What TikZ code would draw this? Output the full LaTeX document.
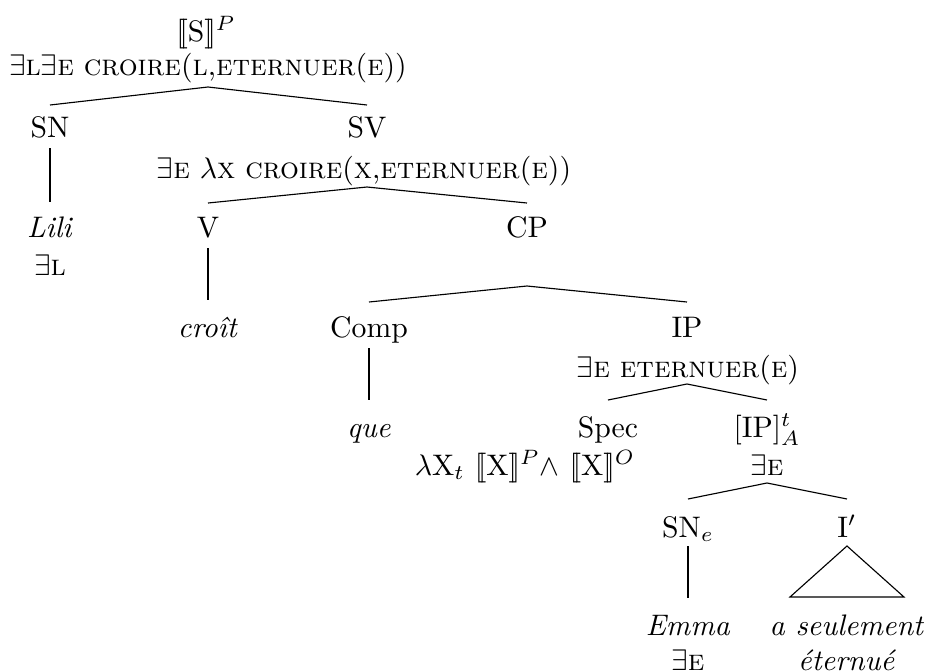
\documentclass[tikz,border=0pt]{standalone}
\newcommand{\sem}[1]{[\![#1]\!]}
\tikzset{
  lbl/.style={anchor=base, inner sep=0pt, outer sep=0pt},
  edge/.style={line width=0.38pt, black},
}
\begin{document}
\begin{tikzpicture}[x=0.3367pt,y=-0.3367pt]
\useasboundingbox (0,0) rectangle (927,672);
% root
\node[lbl] (S) at (206,41) {$\sem{\mathrm{S}}^P$};
\node[lbl] (Sf) at (208,75) {$\exists$\textsc{l}$\exists$\textsc{e} \textsc{croire}(\textsc{l},\textsc{eternuer}(\textsc{e}))};
% level 1
\node[lbl] (SN) at (50,137) {SN};
\node[lbl] (SV) at (367,137) {SV};
\node[lbl] (SVf) at (364,178) {$\exists$\textsc{e} $\lambda$\textsc{x} \textsc{croire}(\textsc{x},\textsc{eternuer}(\textsc{e}))};
% level 2
\node[lbl] (Lili) at (50,237) {\textit{Lili}};
\node[lbl] (EL) at (50,275) {$\exists$\textsc{l}};
\node[lbl] (V) at (208,237) {V};
\node[lbl] (CP) at (527,237) {CP};
% level 3
\node[lbl] (croit) at (208,337) {\textit{croît}};
\node[lbl] (Comp) at (369,337) {Comp};
\node[lbl] (IP) at (687,337) {IP};
\node[lbl] (IPf) at (688,377) {$\exists$\textsc{e} \textsc{eternuer}(\textsc{e})};
% level 4
\node[lbl] (que) at (369,437) {\textit{que}};
\node[lbl] (Spec) at (608,437) {Spec};
\node[lbl] (Specf) at (525,475) {$\lambda$X$_t$ $\sem{\mathrm{X}}^P\wedge$ $\sem{\mathrm{X}}^O$};
\node[lbl] (IPA) at (767,437) {$[\mathrm{IP}]^t_A$};
\node[lbl] (IPAf) at (767,475) {$\exists$\textsc{e}};
% level 5
\node[lbl] (SNe) at (688,537) {SN$_e$};
\node[lbl] (Ip) at (847,537) {I$'$};
% level 6
\node[lbl] (Emma) at (688,635) {\textit{Emma}};
\node[lbl] (EE) at (688,670) {$\exists$\textsc{e}};
\node[lbl] (aseul) at (847,635) {\textit{a seulement}};
\node[lbl] (etern) at (847,670) {\textit{éternué}};
% branch points
\coordinate (r0) at (208,87);  \coordinate (r1) at (50,105);  \coordinate (r2) at (367,105);
\coordinate (v0) at (367,187); \coordinate (v1) at (208,203); \coordinate (v2) at (527,203);
\coordinate (c0) at (527,286); \coordinate (c1) at (369,302); \coordinate (c2) at (687,302);
\coordinate (i0) at (687,384); \coordinate (i1) at (608,400); \coordinate (i2) at (767,400);
\coordinate (a0) at (767,483); \coordinate (a1) at (688,499); \coordinate (a2) at (847,499);
\draw[edge] (r1) -- (r0) -- (r2);
\draw[edge] (v1) -- (v0) -- (v2);
\draw[edge] (c1) -- (c0) -- (c2);
\draw[edge] (i1) -- (i0) -- (i2);
\draw[edge] (a1) -- (a0) -- (a2);
% unary lines
\coordinate (sn0) at (50,148);  \coordinate (sn1) at (50,202);
\coordinate (vv0) at (208,248); \coordinate (vv1) at (208,300);
\coordinate (cm0) at (369,348); \coordinate (cm1) at (369,400);
\coordinate (se0) at (688,546); \coordinate (se1) at (688,598);
\draw[edge] (sn0) -- (sn1);
\draw[edge] (vv0) -- (vv1);
\draw[edge] (cm0) -- (cm1);
\draw[edge] (se0) -- (se1);
% roof
\coordinate (t0) at (847,546); \coordinate (t1) at (790,597); \coordinate (t2) at (904,597);
\draw[edge] (t0) -- (t1) -- (t2) -- cycle;
\end{tikzpicture}
\end{document}
